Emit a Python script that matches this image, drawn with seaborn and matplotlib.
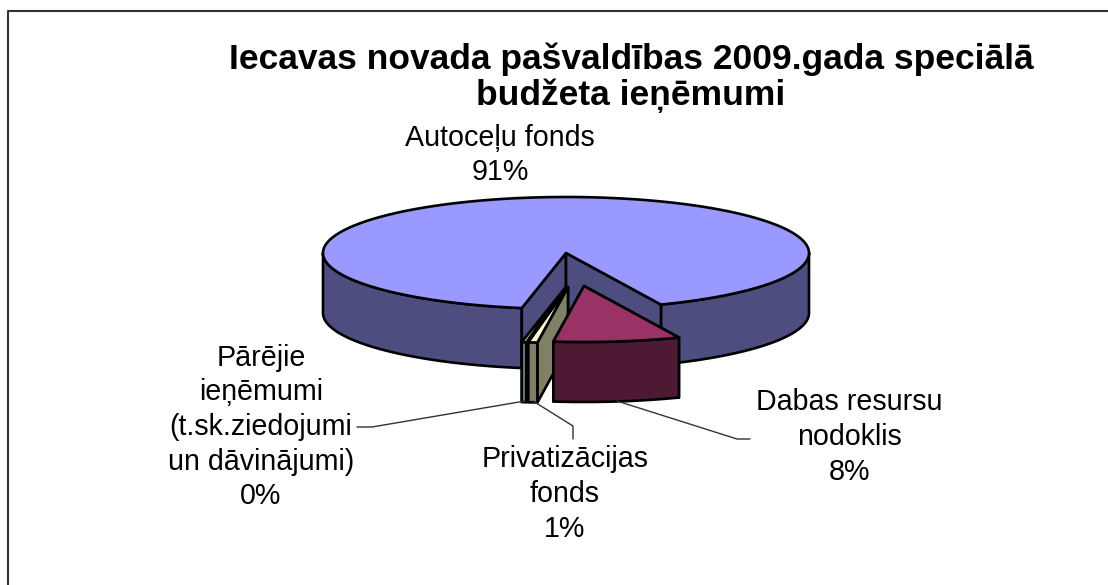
import numpy as np
import matplotlib
matplotlib.use('Agg')
import matplotlib.pyplot as plt
import seaborn as sns

# Budget shares in percent, in pie order (clockwise)
categories = ['Dabas resursu\nnodoklis', 'Privatizācijas\nfonds', 'Pārējie\nieņēmumi\n(t.sk.ziedojumi\nun dāvinājumi)', 'Autoceļu fonds']
values = [8.4, 0.6, 0.3, 90.7]
shown = ['8%', '1%', '0%', '91%']
title = 'Iecavas novada pašvaldības 2009.gada speciālā\nbudžeta ieņēmumi'

top_colors = ['#993366', '#FFFFCC', '#CCFFFF', '#9999FF']
side_colors = ['#4D1933', '#808066', '#668080', '#4D4D80']

sns.set_theme(style='white')
plt.rcParams['font.family'] = ['Liberation Sans', 'DejaVu Sans']

fig, ax = plt.subplots(figsize=(11.08, 5.85), dpi=100)
ax.set_position([0, 0, 1, 1])
ax.set_xlim(0, 1108)
ax.set_ylim(585, 0)
ax.axis('off')

# pie geometry in pixels
rx, ry, depth = 243, 56, 60
start = 157
centers = [(584, 286), (568, 287), (566, 287), (566, 253)]
LW = 1.9


def rim(cx, cy, a0, a1):
    # angles clockwise from 12 o'clock, degrees
    t = np.radians(np.linspace(a0, a1, max(int(abs(a1 - a0)) * 2, 2)))
    return cx + rx * np.sin(t), cy - ry * np.cos(t)


def face(xs, ys, color):
    ax.fill(xs, ys, facecolor=color, edgecolor='black', linewidth=LW, joinstyle='round')


def outer_side(cx, cy, a0, a1, color):
    # only the part of the rim turned towards the viewer
    a0, a1 = max(a0, 90), min(a1, 270)
    if a1 <= a0:
        return
    x, y = rim(cx, cy, a0, a1)
    face(np.r_[x, x[::-1]], np.r_[y, y[::-1] + depth], color)


def wall(cx, cy, angle, color):
    x, y = rim(cx, cy, angle, angle)
    xs = [cx, x[0], x[0], cx]
    ys = [cy, y[0], y[0] + depth, cy + depth]
    face(xs, ys, color)


edges = start + np.cumsum([0] + [v * 3.6 for v in values])

# big slice goes first, the exploded ones sit in front of it
order = [3, 2, 1, 0]
for i in order:
    a0, a1 = edges[i], edges[i + 1]
    cx, cy = centers[i]
    if i == 3:
        outer_side(cx, cy, a0, 270, side_colors[i])
        outer_side(cx, cy, 90, a1 - 360, side_colors[i])
        wall(cx, cy, a0, side_colors[i])
        wall(cx, cy, a1, side_colors[i])
    else:
        wall(cx, cy, a1, side_colors[i])
        wall(cx, cy, a0, side_colors[i])
        outer_side(cx, cy, a0, a1, side_colors[i])
    x, y = rim(cx, cy, a0, a1)
    face(np.r_[cx, x], np.r_[cy, y], top_colors[i])

# chart frame
ax.plot([8, 8, 1108], [585, 11, 11], color='#333333', lw=1.5, clip_on=False)

ax.text(631, 78, title, ha='center', va='center', fontsize=25.5, fontweight='bold',
        color='black', linespacing=1.1)

label_pos = [(849, 437), (565, 494), (261, 427), (500, 155)]
for i, (lx, ly) in enumerate(label_pos):
    ax.text(lx, ly, categories[i] + '\n' + shown[i], ha='center', va='center',
            fontsize=20.6, color='black', linespacing=1.3)

# leader lines
leaders = [
    ([617, 737, 750], [401, 439, 439]),
    ([533, 573, 573], [401, 426, 439]),
    ([525, 372, 357], [401, 427, 427]),
]
for lx, ly in leaders:
    ax.plot(lx, ly, color='#333333', lw=1.0)

fig.savefig('out.png', dpi=100, facecolor='white')
